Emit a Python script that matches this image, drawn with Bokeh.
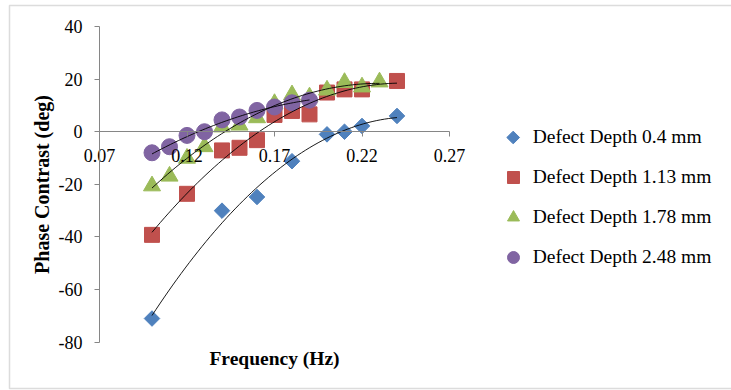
import numpy as np
from bokeh.plotting import figure
from bokeh.models import (Range1d, FixedTicker, Legend, LegendItem,
                          BoxAnnotation, Label)
from bokeh.embed import file_html
from bokeh.resources import INLINE

# Phase contrast vs. modulation frequency for four defect depths
freq_04 = [0.10, 0.14, 0.16, 0.18, 0.20, 0.21, 0.22, 0.24]
phase_04 = [-71.0, -30.0, -24.8, -11.2, -1.0, 0.0, 2.2, 6.0]

freq_113 = [0.10, 0.12, 0.14, 0.15, 0.16, 0.17, 0.18, 0.19, 0.20, 0.21, 0.22, 0.24]
phase_113 = [-39.2, -23.6, -7.1, -6.1, -3.2, 6.4, 7.9, 6.6, 14.9, 16.1, 16.1, 19.3]

freq_178 = [0.10, 0.11, 0.12, 0.13, 0.14, 0.15, 0.16, 0.17, 0.18, 0.19, 0.20, 0.21, 0.22, 0.23]
phase_178 = [-20.6, -16.9, -10.1, -5.7, 1.8, 2.5, 5.3, 10.7, 14.0, 13.2, 15.8, 18.7, 17.0, 18.9]

freq_248 = [0.10, 0.11, 0.12, 0.13, 0.14, 0.15, 0.16, 0.17, 0.18, 0.19]
phase_248 = [-8.0, -5.7, -1.4, 0.0, 4.5, 5.6, 8.1, 9.4, 11.0, 12.0]

series_names = ["Defect Depth 0.4 mm", "Defect Depth 1.13 mm",
                "Defect Depth 1.78 mm", "Defect Depth 2.48 mm"]

x_ticks = [0.07, 0.12, 0.17, 0.22, 0.27]
x_tick_labels = ["0.07", "0.12", "0.17", "0.22", "0.27"]
y_ticks = [-80, -60, -40, -20, 0, 20, 40]
y_tick_labels = ["-80", "-60", "-40", "-20", "0", "20", "40"]

FONT = "Liberation Serif"
AXIS_GREY = "#868686"
COLORS = ["#4F81BD", "#C0504D", "#9BBB59", "#8064A2"]
W, H = 731, 390

# The plotting frame fills the whole canvas; the axes sit at fixed
# positions inside it, so the data window [0.07, 0.27] x [-80, 40]
# occupies pixels 99..449 horizontally and 26..342 vertically.
PX_L, PX_R, PX_T, PX_B = 99.0, 449.0, 26.0, 341.7
X0, X1, Y0, Y1 = x_ticks[0], x_ticks[-1], y_ticks[0], y_ticks[-1]
dx = (X1 - X0) / (PX_R - PX_L)
dy = (Y1 - Y0) / (PX_B - PX_T)
x_range = Range1d(X0 - PX_L * dx, X1 + (W - PX_R) * dx)
y_range = Range1d(Y0 - (H - PX_B) * dy, Y1 + PX_T * dy)


def px_to_data(px, py):
    return x_range.start + px * dx, y_range.end - py * dy


p = figure(width=W, height=H, output_backend="svg", toolbar_location=None,
           x_range=x_range, y_range=y_range,
           min_border=0, min_border_left=0, min_border_right=0,
           min_border_top=0, min_border_bottom=0)
p.outline_line_color = None
p.xgrid.visible = False
p.ygrid.visible = False
p.background_fill_color = "white"
p.border_fill_color = "white"

# x axis crossing at zero phase
xa = p.xaxis[0]
xa.fixed_location = 0
xa.bounds = (X0, X1)
xa.ticker = FixedTicker(ticks=x_ticks)
xa.major_label_overrides = {t: s for t, s in zip(x_ticks, x_tick_labels)}
xa.axis_line_color = AXIS_GREY
xa.major_tick_line_color = AXIS_GREY
xa.minor_tick_line_color = None
xa.major_tick_in = 0
xa.major_tick_out = 5
xa.major_label_standoff = 12
xa.major_label_text_font = FONT
xa.major_label_text_font_size = "18px"
xa.major_label_text_color = "black"

ya = p.yaxis[0]
ya.fixed_location = X0
ya.bounds = (Y0, Y1)
ya.ticker = FixedTicker(ticks=y_ticks)
ya.major_label_overrides = {t: s for t, s in zip(y_ticks, y_tick_labels)}
ya.axis_line_color = AXIS_GREY
ya.major_tick_line_color = AXIS_GREY
ya.minor_tick_line_color = None
ya.major_tick_in = 0
ya.major_tick_out = 5
ya.major_label_standoff = 12
ya.major_label_text_font = FONT
ya.major_label_text_font_size = "18px"
ya.major_label_text_color = "black"
ya.axis_label = "Phase Contrast (deg)"
ya.axis_label_text_font = FONT
ya.axis_label_text_font_size = "20px"
ya.axis_label_text_font_style = "bold"
ya.axis_label_text_color = "black"
ya.axis_label_standoff = 3

# frequency title under the plot area
p.add_layout(Label(x=(X0 + X1) / 2, y=Y0, y_offset=-16.5, text="Frequency (Hz)",
                   text_align="center", text_baseline="middle",
                   text_font=FONT, text_font_size="19.5px",
                   text_font_style="bold", text_color="black"))

series = [
    (freq_04, phase_04, "square", np.pi / 4, 11),
    (freq_113, phase_113, "square", 0.0, 15),
    (freq_178, phase_178, "triangle", 0.0, 17),
    (freq_248, phase_248, "circle", 0.0, 16),
]

renderers = []
for (fx, fy, marker, ang, size), color in zip(series, COLORS):
    r = p.scatter(fx, fy, marker=marker, angle=ang, size=size,
                  fill_color=color, line_color=color)
    renderers.append(r)

# second-order polynomial trendlines over each series' frequency span
for fx, fy, *_ in series:
    coef = np.polyfit(fx, fy, 2)
    xs = np.linspace(min(fx), max(fx), 60)
    p.line(xs, np.polyval(coef, xs), line_color="black", line_width=0.9)

# legend: 30px glyph boxes (markers drawn at 0.4 of the box), 40px row pitch
LEG_LEFT, LEG_TOP, GLYPH, GAP = 497.7, 122.0, 30, 10
n_items = len(series_names)
leg_height = n_items * GLYPH + (n_items - 1) * GAP

# the legend draws markers unrotated, so the diamond swatch is drawn separately
blank = p.scatter(x=[], y=[], marker="square", fill_alpha=0, line_alpha=0)
sx, sy = px_to_data(LEG_LEFT + GLYPH / 2, LEG_TOP + GLYPH / 2)
p.scatter([sx], [sy], marker="square", angle=np.pi / 4, size=9,
          fill_color=COLORS[0], line_color=COLORS[0])

legend_renderers = [blank] + renderers[1:]
items = [LegendItem(label=name, renderers=[r])
         for name, r in zip(series_names, legend_renderers)]
legend = Legend(items=items, location=(LEG_LEFT, H - LEG_TOP - leg_height),
                orientation="vertical",
                glyph_width=GLYPH, glyph_height=GLYPH, label_height=20,
                label_standoff=5, spacing=GAP, padding=0, margin=0,
                border_line_color=None, background_fill_alpha=0,
                label_text_font=FONT, label_text_font_size="19.5px",
                label_text_color="black")
p.add_layout(legend, "center")

# chart-area border
border = BoxAnnotation(left=9, right=W + 20, top=5, bottom=388,
                       left_units="canvas", right_units="canvas",
                       top_units="canvas", bottom_units="canvas",
                       fill_alpha=0, line_color="#8c8c8c", line_width=1.5)
p.add_layout(border)

open("out.html", "w").write(file_html(p, INLINE))
